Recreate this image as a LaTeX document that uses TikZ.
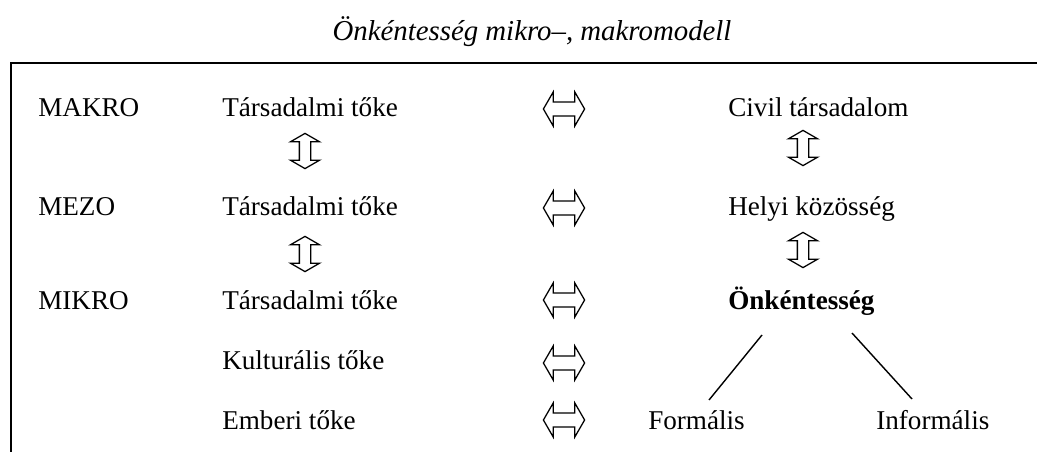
\documentclass[tikz,border=0pt]{standalone}
\usepackage{fontspec}
\setmainfont{Liberation Serif}
\usetikzlibrary{calc,shapes.arrows}

\begin{document}
\begin{tikzpicture}[x=0.025cm,y=-0.025cm,
  lbl/.style={anchor=base west,inner sep=0pt,font=\fontsize{19.3}{23}\selectfont},
  harr/.style={double arrow,draw,line width=0.9pt,inner xsep=0pt,inner ysep=0.16cm,
    minimum height=1.03cm,double arrow head extend=0.25cm,double arrow tip angle=120},
  varr/.style={harr,rotate=90,inner ysep=0.125cm,minimum height=0.88cm,
    double arrow head extend=0.225cm}]
\useasboundingbox (0,0) rectangle (1037,452);
% frame
\draw[line width=1.3pt] (10,63) -- (1037,63);
\draw[line width=1.3pt] (11,63) -- (11,452);
\node[font=\fontsize{20.5}{24}\selectfont\itshape] (title) at (532,32) {Önkéntesség mikro--, makromodell};
% levels
\node[lbl] (makro) at (38,117) {MAKRO};
\node[lbl] (mezo) at (38,216) {MEZO};
\node[lbl] (mikro) at (38,309) {MIKRO};
% capitals
\node[lbl] (tt1) at (222,117) {Társadalmi tőke};
\node[lbl] (tt2) at (222,216) {Társadalmi tőke};
\node[lbl] (tt3) at (222,309) {Társadalmi tőke};
\node[lbl] (kt) at (222,369) {Kulturális tőke};
\node[lbl] (et) at (222,429) {Emberi tőke};
% right column
\node[lbl] (civil) at (728,117) {Civil társadalom};
\node[lbl] (helyi) at (728,216) {Helyi közösség};
\node[lbl,font=\fontsize{19.3}{23}\selectfont\bfseries] (onk) at (728,309) {Önkéntesség};
\node[lbl] (form) at (648,429) {Formális};
\node[lbl] (inform) at (876,429) {Informális};
% arrows
\node[harr] (h1) at (564,109) {};
\node[harr] (h2) at (564,208) {};
\node[harr] (h3) at (564,300) {};
\node[harr] (h4) at (564,363) {};
\node[harr] (h5) at (564,420) {};
\node[varr] (v1) at (305,151) {};
\node[varr] (v2) at (305,254) {};
\node[varr] (v3) at (803,148) {};
\node[varr] (v4) at (803,250) {};
\draw[line width=1pt] ($(onk.base west)+(34,26)$) -- ($(form.base west)+(61,-29)$);
\draw[line width=1pt] ($(onk.base west)+(124,24)$) -- ($(inform.base west)+(36,-30)$);
\end{tikzpicture}
\end{document}
